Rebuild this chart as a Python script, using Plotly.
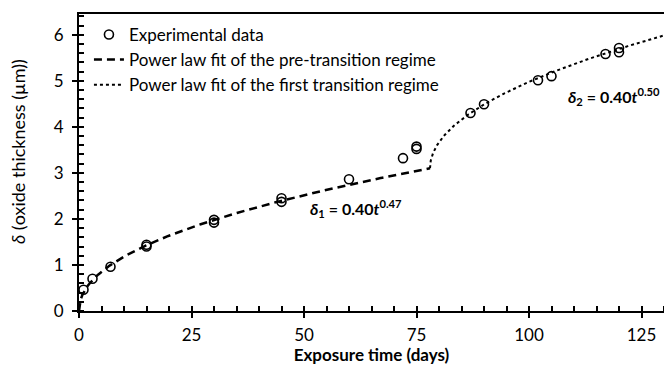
import numpy as np
import plotly.graph_objects as go

exp_t = [1, 3, 7, 15, 15, 30, 30, 45, 45, 60, 72, 75, 75, 87, 90, 102, 105, 117, 120, 120]
exp_d = [0.46, 0.70, 0.96, 1.40, 1.44, 1.92, 1.98, 2.37, 2.45, 2.86, 3.32, 3.52, 3.57, 4.30, 4.49, 5.01, 5.10, 5.58, 5.62, 5.71]

# Fit parameters shown on the chart
k1, n1 = 0.40, 0.47       # pre-transition regime
k2, n2 = 0.40, 0.50       # first transition regime
t_tr = 78.0               # transition time (days)
t_end = 130.0

t1 = np.linspace(0, t_tr, 200)
d1 = k1 * t1 ** n1
d_tr = k1 * t_tr ** n1
t2 = t_tr + np.concatenate([np.linspace(0, 1, 60) ** 2 * 2, np.linspace(2.05, t_end - t_tr, 200)])
d2 = d_tr + k2 * (t2 - t_tr) ** n2

FONT = "Lato"

fig = go.Figure()
fig.add_trace(go.Scatter(x=exp_t, y=exp_d, mode="markers", name="Experimental data",
                         marker=dict(symbol="circle-open", size=9, color="black",
                                     line=dict(width=1.6, color="black"))))
fig.add_trace(go.Scatter(x=t1, y=d1, mode="lines", name="Power law fit of the pre-transition regime",
                         line=dict(color="black", width=2.5, dash="8px,5px")))
fig.add_trace(go.Scatter(x=t2, y=d2, mode="lines", name="Power law fit of the first transition regime",
                         line=dict(color="black", width=2, dash="dot")))
# helper trace for overlay axes (inside half of major ticks)
fig.add_trace(go.Scatter(x=[0], y=[0], xaxis="x2", yaxis="y2", mode="markers",
                         marker=dict(opacity=0), showlegend=False, hoverinfo="skip"))

fig.update_layout(
    width=664, height=365,
    margin=dict(l=79, r=0, t=14, b=54),
    paper_bgcolor="white", plot_bgcolor="white",
    font=dict(family=FONT, size=17, color="black"),
    showlegend=True,
    legend=dict(x=0.017, y=0.99, xanchor="left", yanchor="top",
                bgcolor="rgba(0,0,0,0)", font=dict(size=17, family=FONT),
                tracegroupgap=0, itemwidth=30),
    xaxis=dict(range=[0, 130], tick0=0, dtick=25, ticks="outside", ticklen=5, tickwidth=1.5,
               tickcolor="black", showline=True, linecolor="black", linewidth=2,
               mirror=True, showgrid=False, zeroline=False, ticklabelstandoff=3,
               minor=dict(dtick=5, ticks="inside", ticklen=5, tickwidth=1.5, tickcolor="black"),
               title=dict(text="<b>Exposure time (days)</b>", font=dict(size=17), standoff=2),
               tickfont=dict(size=17)),
    yaxis=dict(range=[0, 6.45], tick0=0, dtick=1, ticks="outside", ticklen=5, tickwidth=1.5,
               tickcolor="black", showline=True, linecolor="black", linewidth=2,
               showgrid=False, zeroline=False, ticklabelstandoff=5,
               minor=dict(dtick=0.2, ticks="inside", ticklen=5, tickwidth=1.5, tickcolor="black"),
               tickfont=dict(size=17)),
    xaxis2=dict(overlaying="x", matches="x", range=[0, 130], tick0=0, dtick=25, ticks="inside",
                ticklen=5, tickwidth=1.5, tickcolor="black", showticklabels=False,
                showgrid=False, zeroline=False, showline=False, anchor="y2"),
    yaxis2=dict(overlaying="y", matches="y", range=[0, 6.45], tick0=0, dtick=1, ticks="inside",
                ticklen=5, tickwidth=1.5, tickcolor="black", showticklabels=False,
                showgrid=False, zeroline=False, showline=False, anchor="x2"),
    annotations=[
        dict(x=18, y=152, xref="paper", yref="paper", showarrow=False, textangle=-90,
             text="<i>δ</i> (oxide thickness (µm))", font=dict(size=18, family=FONT),
             xanchor="center", yanchor="middle"),
        dict(x=61.5, y=2.23, xref="x", yref="y", showarrow=False,
             text="<b><i>δ</i><sub>1</sub> = 0.40<i>t</i><sup>0.47</sup></b>",
             font=dict(size=16, family=FONT)),
        dict(x=129.5, y=4.65, xref="x", yref="y", showarrow=False, xanchor="right",
             text="<b><i>δ</i><sub>2</sub> = 0.40<i>t</i><sup>0.50</sup></b>",
             font=dict(size=16, family=FONT)),
    ],
)
# position y-title annotation in pixel terms converted to paper coords
plot_w, plot_h = 664 - 79, 365 - 14 - 54
fig.layout.annotations[0].x = (18 - 79) / plot_w
fig.layout.annotations[0].y = (365 - 54 - 152) / plot_h

fig.write_html("out.html")
